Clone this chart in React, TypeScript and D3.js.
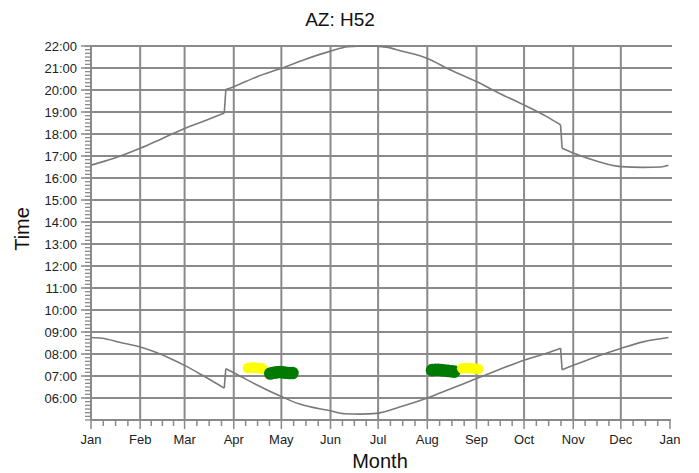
import React from 'react';
import * as d3 from 'd3';

// month tick labels (last one is Jan of next year)
const monthLabels = ['Jan', 'Feb', 'Mar', 'Apr', 'May', 'Jun', 'Jul', 'Aug', 'Sep', 'Oct', 'Nov', 'Dec', 'Jan'];
const hourLabels = ['06:00', '07:00', '08:00', '09:00', '10:00', '11:00', '12:00', '13:00', '14:00', '15:00', '16:00', '17:00', '18:00', '19:00', '20:00', '21:00', '22:00'];

// sunset line (upper), with the DST jumps
const sunsetDates = ['01-01', '01-15', '02-01', '02-15', '03-01', '03-15', '03-26', '03-27', '04-01', '04-15', '05-01', '05-15', '06-01', '06-12', '06-24', '07-06', '07-15', '08-01', '08-15', '09-01', '09-15', '10-01', '10-15', '10-24', '10-25', '11-01', '11-15', '12-01', '12-15', '12-26', '12-31'];
const sunsetTimes = ['16:35', '16:53', '17:21', '17:48', '18:15', '18:38', '18:57', '20:01', '20:09', '20:35', '20:59', '21:22', '21:46', '21:58', '22:00', '21:57', '21:47', '21:26', '20:56', '20:23', '19:52', '19:19', '18:48', '18:25', '17:21', '17:08', '16:47', '16:31', '16:29', '16:30', '16:35'];

// sunrise line (lower)
const sunriseDates = ['01-01', '01-08', '01-19', '02-01', '02-10', '02-20', '03-01', '03-13', '03-26', '03-27', '04-01', '04-15', '05-01', '05-12', '06-01', '06-10', '06-20', '06-30', '07-15', '08-01', '08-15', '09-01', '09-15', '10-01', '10-15', '10-24', '10-25', '11-01', '11-15', '12-01', '12-15', '12-31'];
const sunriseTimes = ['08:45', '08:43', '08:32', '08:19', '08:06', '07:48', '07:29', '07:00', '06:27', '07:20', '07:09', '06:37', '06:04', '05:44', '05:25', '05:17', '05:16', '05:18', '05:36', '06:00', '06:24', '06:53', '07:17', '07:43', '08:02', '08:16', '07:17', '07:29', '07:52', '08:15', '08:33', '08:45'];

// glare blobs
const yellowSpringDates = ['04-10', '04-12', '04-14', '04-16', '04-18', '04-19'];
const yellowSpringTimes = ['07:22', '07:23', '07:23', '07:22', '07:21', '07:20'];
const greenSpringDates = ['04-24', '04-26', '04-28', '04-30', '05-02', '05-04', '05-06', '05-08'];
const greenSpringTimes = ['07:07', '07:09', '07:10', '07:11', '07:10', '07:09', '07:08', '07:08'];
const greenAutumnDates = ['08-04', '08-06', '08-08', '08-10', '08-12', '08-14', '08-16', '08-18'];
const greenAutumnTimes = ['07:16', '07:17', '07:17', '07:16', '07:15', '07:14', '07:13', '07:12'];
const yellowAutumnDates = ['08-23', '08-25', '08-27', '08-29', '08-31', '09-02'];
const yellowAutumnTimes = ['07:21', '07:22', '07:22', '07:21', '07:20', '07:19'];

const W = 699;
const H = 473;
const FONT = 'Arial, "Liberation Sans", sans-serif';
const GRID = '#8a8a8a';
const CURVE = '#7a7a7a';

type Pt = { date: Date; t: number };

const toDate = (s: string) => {
  const [m, d] = s.split('-').map(Number);
  return new Date(2023, m - 1, d);
};
const toHours = (s: string) => {
  const [h, m] = s.split(':').map(Number);
  return h + m / 60;
};
const zip = (dates: string[], times: string[]): Pt[] => dates.map((d, i) => ({ date: toDate(d), t: toHours(times[i]) }));

// split a series where the clock jumps (DST) so each piece can be smoothed
const splitAtJumps = (pts: Pt[]) => {
  const parts: Pt[][] = [[pts[0]]];
  const jumps: [Pt, Pt][] = [];
  for (let i = 1; i < pts.length; i++) {
    const a = pts[i - 1];
    const b = pts[i];
    const days = (b.date.getTime() - a.date.getTime()) / 864e5;
    if (days <= 1.5 && Math.abs(b.t - a.t) > 0.5) {
      jumps.push([a, b]);
      parts.push([b]);
    } else parts[parts.length - 1].push(b);
  }
  return { parts, jumps };
};

const App = () => {
  const x = d3.scaleTime().domain([new Date(2023, 0, 1), new Date(2024, 0, 1)]).range([91, 670]);
  const y = d3.scaleLinear().domain([5, 22]).range([420, 46]);

  const months = d3.timeMonth.range(new Date(2023, 0, 1), new Date(2024, 0, 2));
  const minorX: number[] = [];
  for (let i = 0; i < months.length - 1; i++) {
    const a = x(months[i]);
    const b = x(months[i + 1]);
    for (let k = 1; k < 4; k++) minorX.push(a + ((b - a) * k) / 4);
  }
  const minorY = d3.range(5 * 6, 22 * 6 + 1).map((v) => v / 6);

  const line = d3
    .line<Pt>()
    .x((d) => x(d.date))
    .y((d) => y(d.t))
    .curve(d3.curveMonotoneX);

  const curves = [splitAtJumps(zip(sunsetDates, sunsetTimes)), splitAtJumps(zip(sunriseDates, sunriseTimes))];

  const blobs = [
    { pts: zip(yellowSpringDates, yellowSpringTimes), color: '#ffff00', r: 5.3 },
    { pts: zip(greenSpringDates, greenSpringTimes), color: '#007a00', r: 6.3 },
    { pts: zip(greenAutumnDates, greenAutumnTimes), color: '#007a00', r: 6.3 },
    { pts: zip(yellowAutumnDates, yellowAutumnTimes), color: '#ffff00', r: 5.3 },
  ];

  const x0 = x.range()[0];
  const x1 = x.range()[1];
  const yb = y(5);
  const yt = y(22);

  return (
    <svg width={W} height={H} style={{ position: 'absolute', left: 0, top: 0, background: '#fff' }} fontFamily={FONT}>
      <defs>
        <clipPath id="plot">
          <rect x={x0} y={yt - 1} width={x1 - x0 + 2} height={yb - yt + 1} />
        </clipPath>
      </defs>

      {/* grid */}
      {hourLabels.map((h) => (
        <line key={'h' + h} x1={x0} x2={x1 + 2} y1={y(toHours(h))} y2={y(toHours(h))} stroke={GRID} strokeWidth={2} />
      ))}
      {months.slice(1, -1).map((m, i) => (
        <line key={'v' + i} x1={x(m)} x2={x(m)} y1={yt - 1} y2={yb} stroke={GRID} strokeWidth={2} />
      ))}

      {/* left axis */}
      <line x1={x0} x2={x0} y1={yt - 1} y2={yb} stroke={GRID} strokeWidth={2} />
      {minorY.map((v, i) => (
        <line key={'my' + i} x1={x0 - 6} x2={x0} y1={y(v)} y2={y(v)} stroke={GRID} strokeWidth={1.3} />
      ))}
      {hourLabels.map((h) => (
        <g key={'yl' + h}>
          <line x1={x0 - 10} x2={x0} y1={y(toHours(h))} y2={y(toHours(h))} stroke={GRID} strokeWidth={1.5} />
          <text x={x0 - 14} y={y(toHours(h))} dy="0.36em" textAnchor="end" fontSize={13} fill="#222">
            {h}
          </text>
        </g>
      ))}

      {/* bottom axis */}
      <line x1={x0 - 1} x2={x1 + 1} y1={yb} y2={yb} stroke={GRID} strokeWidth={2} />
      {minorX.map((v, i) => (
        <line key={'mx' + i} x1={v} x2={v} y1={yb} y2={yb + 6} stroke={GRID} strokeWidth={1.5} />
      ))}
      {months.map((m, i) => (
        <g key={'xl' + i}>
          <line x1={x(m)} x2={x(m)} y1={yb} y2={yb + 9} stroke={GRID} strokeWidth={1.5} />
          <text x={x(m)} y={yb + 24} textAnchor="middle" fontSize={13} fill="#222">
            {monthLabels[i]}
          </text>
        </g>
      ))}

      {/* blobs */}
      {blobs.map((b, bi) =>
        b.pts.map((p, i) => <circle key={'b' + bi + '-' + i} cx={x(p.date)} cy={y(p.t)} r={b.r} fill={b.color} />)
      )}

      {/* sun lines */}
      <g clipPath="url(#plot)" fill="none" stroke={CURVE} strokeWidth={1.6}>
        {curves.map((c, ci) => (
          <g key={'c' + ci}>
            {c.parts.map((p, pi) => (
              <path key={'p' + pi} d={line(p) || ''} />
            ))}
            {c.jumps.map(([a, b], ji) => (
              <line key={'j' + ji} x1={x(a.date)} y1={y(a.t)} x2={x(b.date)} y2={y(b.t)} />
            ))}
          </g>
        ))}
      </g>

      {/* titles */}
      <text x={340} y={26} textAnchor="middle" fontSize={19} fill="#111">
        AZ: H52
      </text>
      <text x={380} y={468} textAnchor="middle" fontSize={20} fill="#111">
        Month
      </text>
      <text transform={`translate(29, ${(yt + yb) / 2 - 4}) rotate(-90)`} textAnchor="middle" fontSize={20} fill="#111">
        Time
      </text>
    </svg>
  );
};

export default App;
